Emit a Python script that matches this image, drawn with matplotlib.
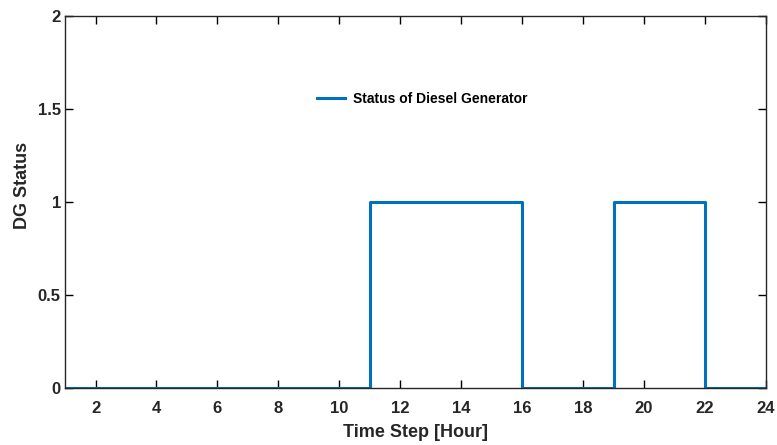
import matplotlib.pyplot as plt
import numpy as np

hours = np.arange(1, 25)
status = [0, 0, 0, 0, 0, 0, 0, 0, 0, 0,
          1, 1, 1, 1, 1,
          0, 0, 0,
          1, 1, 1,
          0, 0, 0]

plt.rcParams['font.family'] = ['Liberation Sans', 'DejaVu Sans']
plt.rcParams['font.weight'] = 'bold'

fig = plt.figure(figsize=(7.77, 4.45), dpi=100)
ax = fig.add_axes([0.0837, 0.128, 0.902, 0.836])

ax.plot(hours, status, drawstyle='steps-post', color='#0072BD', lw=2.2,
        label='Status of Diesel Generator')

ax.set_xlim(1, 24)
ax.set_ylim(0, 2)
ax.set_xticks(np.arange(2, 25, 2))
ax.set_yticks([0, 0.5, 1, 1.5, 2])
ax.set_yticklabels(['0', '0.5', '1', '1.5', '2'])
ax.tick_params(direction='in', top=True, right=True, labelsize=12, length=6,
               width=1, labelcolor='#262626')
ax.tick_params(axis='x', pad=9)
ax.tick_params(axis='y', pad=3)
for s in ax.spines.values():
    s.set_linewidth(1)
    s.set_color('#262626')

ax.set_xlabel('Time Step [Hour]', fontsize=13, fontweight='bold', labelpad=6,
              color='#262626')
ax.set_ylabel('DG Status', fontsize=13, fontweight='bold', color='#262626')
ax.yaxis.set_label_coords(-0.049, 0.545)

ax.legend(loc='center', bbox_to_anchor=(0.51, 0.777), frameon=False,
          fontsize=10, handlelength=2.0, handletextpad=0.6)

fig.savefig('out.png', dpi=100)
